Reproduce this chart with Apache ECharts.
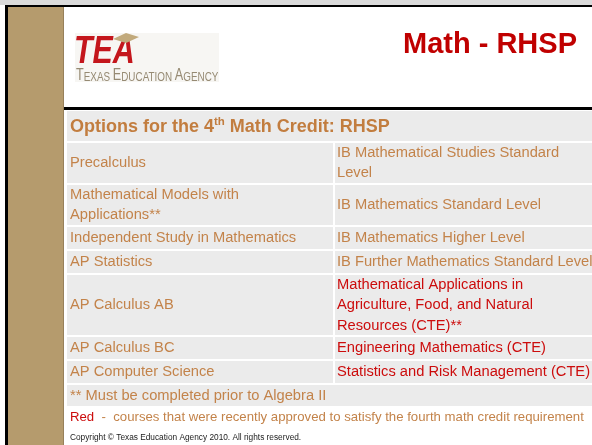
<!DOCTYPE html>
<html>
<head>
<meta charset="utf-8">
<script src="https://cdn.jsdelivr.net/npm/echarts@6/dist/echarts.min.js"></script>
<style>
  html, body { margin: 0; padding: 0; background: #fff; }
  #chart { width: 592px; height: 445px; }
</style>
</head>
<body>
<div id="chart"></div>
<script>
// slide texts
const slideTitle = 'Math - RHSP'
const logoMark = 'TEA'
const logoName = ['T', 'EXAS ', 'E', 'DUCATION ', 'A', 'GENCY']
const sectionTitle = ['Options for the 4', 'th', ' Math Credit: RHSP']
const leftCourses = [
  'Precalculus',
  'Mathematical Models with\nApplications**',
  'Independent Study in Mathematics',
  'AP Statistics',
  'AP Calculus AB',
  'AP Calculus BC',
  'AP Computer Science'
]
const rightCourses = [
  'IB Mathematical Studies Standard\nLevel',
  'IB Mathematics Standard Level',
  'IB Mathematics Higher Level',
  'IB Further Mathematics Standard Level',
  'Mathematical Applications in\nAgriculture, Food, and Natural\nResources (CTE)**',
  'Engineering Mathematics (CTE)',
  'Statistics and Risk Management (CTE)'
]
const rightRecent = [false, false, false, false, true, true, true]
const footnote = '** Must be completed prior to Algebra II'
const legendKey = 'Red'
const legendText = '  -  courses that were recently approved to satisfy the fourth math credit requirement'
const copyright = 'Copyright \u00a9 Texas Education Agency 2010. All rights reserved.'

const FONT = '"Liberation Sans", Arial, Helvetica, sans-serif'
const BROWN = '#c3834a'
const RED = '#cc0c0c'
const CELL = '#ebebeb'
const BODY_SIZE = 14.7

const lineCount = (s) => s.split('\n').length
const rowHeight = (n) => (n === 1 ? 22 : 20 * n)

function buildGraphics () {
  const g = []
  // frame
  g.push({ type: 'rect', shape: { x: 0, y: 0, width: 592, height: 5 }, style: { fill: '#dadada' } })
  g.push({ type: 'rect', shape: { x: 5, y: 5, width: 587, height: 2 }, style: { fill: '#000' } })
  g.push({ type: 'rect', shape: { x: 5, y: 5, width: 3, height: 440 }, style: { fill: '#000' } })
  g.push({ type: 'rect', shape: { x: 8, y: 7, width: 55, height: 438 }, style: { fill: '#b59b6d' } })
  g.push({ type: 'rect', shape: { x: 63, y: 7, width: 1, height: 438 }, style: { fill: '#97805a' } })
  g.push({ type: 'rect', shape: { x: 64, y: 107, width: 528, height: 3 }, style: { fill: '#000' } })

  // logo
  g.push({ type: 'rect', shape: { x: 75, y: 33, width: 144, height: 49 }, style: { fill: '#f7f6f3' } })
  g.push({
    type: 'text', x: 74, y: 52, scaleX: 0.78,
    style: { text: logoMark, fill: '#c4161c', font: 'italic bold 39px ' + FONT, verticalAlign: 'middle' }
  })
  g.push({
    type: 'polygon',
    shape: { points: [[113, 39], [126, 33], [139, 37], [126, 43]] },
    style: { fill: '#c2aa7c' }
  })
  g.push({
    type: 'text', x: 76, y: 76, scaleX: 0.79,
    style: {
      text: logoName.map((t, i) => `{${i % 2 ? 's' : 'b'}|${t}}`).join(''),
      verticalAlign: 'middle',
      rich: {
        b: { fontFamily: FONT, fontSize: 16, fill: '#968a73', verticalAlign: 'bottom' },
        s: { fontFamily: FONT, fontSize: 12.5, fill: '#968a73', verticalAlign: 'bottom' }
      }
    }
  })

  // title
  g.push({
    type: 'text', x: 577, y: 45,
    style: { text: slideTitle, fill: '#c00000', font: 'bold 29px ' + FONT, align: 'right', verticalAlign: 'middle' }
  })

  // section header
  g.push({ type: 'rect', shape: { x: 67, y: 111, width: 530, height: 30 }, style: { fill: CELL } })
  g.push({
    type: 'text', x: 70, y: 127,
    style: {
      text: `{a|${sectionTitle[0]}}{s|${sectionTitle[1]}}{a|${sectionTitle[2]}}`,
      verticalAlign: 'middle',
      rich: {
        a: { fontFamily: FONT, fontWeight: 'bold', fontSize: 18, fill: '#c27d3f', lineHeight: 22 },
        s: { fontFamily: FONT, fontWeight: 'bold', fontSize: 11.5, fill: '#c27d3f', lineHeight: 22, verticalAlign: 'top' }
      }
    }
  })

  // course rows
  let y = 143
  leftCourses.forEach((left, i) => {
    const right = rightCourses[i]
    const h = rowHeight(Math.max(lineCount(left), lineCount(right)))
    g.push({ type: 'rect', shape: { x: 67, y, width: 266, height: h }, style: { fill: CELL } })
    g.push({ type: 'rect', shape: { x: 335, y, width: 260, height: h }, style: { fill: CELL } })
    g.push({
      type: 'text', x: 70, y: y + h / 2,
      style: { text: left, fill: BROWN, fontFamily: FONT, fontSize: BODY_SIZE, lineHeight: 20.5, verticalAlign: 'middle' }
    })
    g.push({
      type: 'text', x: 337, y: y + h / 2,
      style: { text: right, fill: rightRecent[i] ? RED : BROWN, fontFamily: FONT, fontSize: BODY_SIZE, lineHeight: 20.5, verticalAlign: 'middle' }
    })
    y += h + 2
  })

  // footnote row
  g.push({ type: 'rect', shape: { x: 67, y, width: 530, height: 21 }, style: { fill: CELL } })
  g.push({
    type: 'text', x: 70, y: y + 10.5,
    style: { text: footnote, fill: BROWN, fontFamily: FONT, fontSize: BODY_SIZE, verticalAlign: 'middle' }
  })
  y += 21

  // legend line
  g.push({
    type: 'text', x: 70, y: y + 11,
    style: {
      text: `{r|${legendKey}}{t|${legendText}}`,
      verticalAlign: 'middle',
      rich: {
        r: { fontFamily: FONT, fontSize: 13.2, fill: RED },
        t: { fontFamily: FONT, fontSize: 13.2, fill: BROWN }
      }
    }
  })

  g.push({
    type: 'text', x: 70, y: 438,
    style: { text: copyright, fill: '#222', fontFamily: FONT, fontSize: 8.3, verticalAlign: 'middle' }
  })
  return g
}

const chart = echarts.init(document.getElementById('chart'), null, { renderer: 'canvas' })
chart.setOption({
  backgroundColor: '#fff',
  animation: false,
  graphic: buildGraphics()
})
</script>
</body>
</html>
